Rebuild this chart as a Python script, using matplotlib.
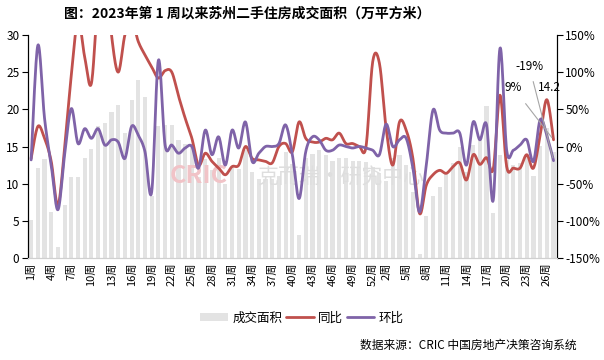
import numpy as np
import matplotlib.pyplot as plt

plt.rcParams['font.family'] = ['Noto Sans CJK SC', 'DejaVu Sans']

# 2023 week 1..52, then 2024 week 1..27
weeks = list(range(1, 53)) + list(range(1, 28))

area = [5.1, 12.1, 13.3, 6.2, 1.5, 7.1, 10.9, 10.9, 13.5, 14.7,
        17.8, 18.1, 19.6, 20.6, 16.8, 21.3, 24.0, 21.6, 8.3, 17.7,
        17.9, 17.9, 15.9, 15.4, 15.4, 10.9, 13.3, 11.8, 13.4, 10.0,
        12.2, 12.0, 14.5, 11.6, 10.6, 10.6, 10.6, 11.0, 14.2, 12.6,
        3.1, 13.5, 14.0, 14.5, 13.8, 13.1, 13.4, 13.4, 13.1, 13.1,
        12.9, 12.2, 11.4, 10.4, 13.4, 13.9, 12.5, 8.9, 0.6, 5.6,
        8.3, 9.6, 11.4, 12.8, 15.0, 11.6, 15.2, 16.0, 20.4, 6.0,
        13.9, 13.2, 12.5, 12.8, 13.9, 11.1, 15.1, 17.5, 14.2]

yoy = [-16, 27, 11, -20, -79, -2, 96, 170, 120, 85,
       200, 250, 150, 100, 150, 170, 141, 123, 107, 92,
       102, 100, 68, 38, 11, -25, -9, -20, -29, -38,
       -27, -25, 0, -16, -18, -20, -22, 0, 4, -7,
       33, 11, 6, 6, 11, 9, 18, 4, 4, 0,
       0, 114, 112, 25, -25, 33, 22, -16, -90, -52,
       -38, -32, -36, -27, -22, -45, -11, -24, -15, -30,
       69, -27, -29, -29, -11, -29, 15, 63, 9]

mom = [-18, 136, 38, -25, -85, -11, 51, 4, 24, 11,
       24, 2, 9, 6, -16, 27, 15, -7, -61, 116,
       2, 2, -9, -2, 0, -29, 22, -11, 13, -25,
       22, -2, 33, -20, -9, 0, 0, 4, 29, -11,
       -70, -7, 13, 9, -5, -5, 2, 0, -2, 0,
       -2, -5, -11, 30, 0, 9, 11, -29, -88, -25,
       49, 22, 18, 18, 18, -25, 33, 9, 29, -72,
       132, -5, -5, 2, 9, -20, 36, 15, -19]


def smooth(x, y, n=16):
    # Catmull-Rom curve through the points, like Excel's smoothed line
    pts = np.column_stack([x, y]).astype(float)
    p = np.vstack([pts[0], pts, pts[-1]])
    t = np.linspace(0, 1, n, endpoint=False)[:, None]
    out = []
    for k in range(len(pts) - 1):
        p0, p1, p2, p3 = p[k], p[k + 1], p[k + 2], p[k + 3]
        out.append(0.5 * (2 * p1 + (-p0 + p2) * t
                          + (2 * p0 - 5 * p1 + 4 * p2 - p3) * t ** 2
                          + (-p0 + 3 * p1 - 3 * p2 + p3) * t ** 3))
    out.append(pts[-1:])
    s = np.vstack(out)
    return s[:, 0], s[:, 1]


x = np.arange(len(area))
red = '#c0504d'
purple = '#7f63a8'

fig = plt.figure(figsize=(6.04, 3.6), dpi=100)
ax = fig.add_axes([0.046, 0.283, 0.876, 0.62])
ax2 = ax.twinx()

ax.bar(x, area, width=0.62, color='#e3e3e3', label='成交面积', zorder=1)
ax.set_ylim(0, 30)
ax.set_yticks(range(0, 31, 5))
ax.set_xlim(-0.5, len(area) - 0.5)
tick_idx = list(range(0, 52, 3)) + list(range(53, len(area), 3))
ax.set_xticks(tick_idx)
ax.set_xticklabels([f'{weeks[i]}周' for i in tick_idx], rotation=90, fontsize=8)
ax.tick_params(axis='x', length=0, pad=3)
ax.tick_params(axis='y', labelsize=8.5, length=4, direction='out', pad=2)

# faint watermark
ax.text(25.0, 11.0, 'CRIC', fontsize=18, fontweight='bold', style='italic',
        color='#f1c3c7', ha='center', va='center', zorder=2)
ax.text(33.8, 11.0, '克而瑞·研究中心', fontsize=15, color='#dedede',
        ha='left', va='center', zorder=2)

sx, sy = smooth(x, yoy)
ax2.plot(sx, sy, color=red, lw=2.0, label='同比', solid_capstyle='round')
sx, sy = smooth(x, mom)
ax2.plot(sx, sy, color=purple, lw=2.0, label='环比', solid_capstyle='round')
ax2.set_ylim(-150, 150)
ax2.set_yticks(range(-150, 151, 50))
ax2.set_yticklabels([f'{v}%' for v in range(-150, 151, 50)])
ax2.tick_params(axis='y', labelsize=8.5, length=4, direction='out', pad=2)

for a in (ax, ax2):
    a.spines['top'].set_visible(False)
    a.spines['bottom'].set_color('#d0d0d0')
    a.spines['left'].set_color('black')
    a.spines['right'].set_color('black')

# data labels for the last week
last = len(area) - 1
lc = '#a6a6a6'
ax2.annotate(f'{mom[-1]}%', xy=(last, mom[-1]), xytext=(74.4, 107),
             ha='center', va='center', fontsize=8.5,
             arrowprops=dict(arrowstyle='-', color=lc, lw=0.8, shrinkA=4, shrinkB=2))
ax2.annotate(f'{yoy[-1]}%', xy=(last, yoy[-1]), xytext=(72.0, 79),
             ha='center', va='center', fontsize=8.5,
             arrowprops=dict(arrowstyle='-', color=lc, lw=0.8, shrinkA=6, shrinkB=2))
ax.text(77.4, (258 - 88) / 7.43, f'{area[-1]}', ha='center', va='center', fontsize=8.5)

h1, l1 = ax.get_legend_handles_labels()
h2, l2 = ax2.get_legend_handles_labels()
fig.legend(h1 + h2, l1 + l2, loc='center', bbox_to_anchor=(0.5, 0.117), ncol=3,
           frameon=False, fontsize=9, handlelength=2.2, handletextpad=0.35,
           columnspacing=0.3)

fig.text(0.41, 0.962, '图：2023年第 1 周以来苏州二手住房成交面积（万平方米）',
         ha='center', va='center', fontsize=10, fontweight='bold')
fig.text(0.955, 0.042, '数据来源：CRIC 中国房地产决策咨询系统',
         ha='right', va='center', fontsize=8.5)

fig.savefig('out.png', dpi=100)
